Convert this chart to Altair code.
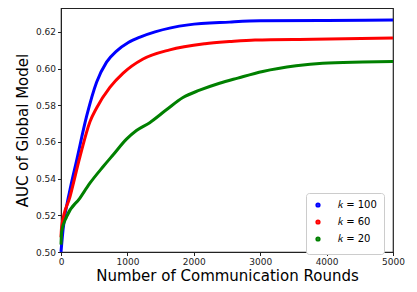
import altair as alt
import pandas as pd

labels = ["𝑘 = 100", "𝑘 = 60", "𝑘 = 20"]
colors = ["#0000ff", "#ff0000", "#008000"]

k100_x = [0, 30, 136, 236, 386, 536, 686, 836, 1014, 1200, 1416, 1917, 2538, 3000, 4000, 5000]
k100_y = [0.500, 0.512, 0.534, 0.550, 0.574, 0.5925, 0.6035, 0.6095, 0.6142, 0.6173, 0.620, 0.6238, 0.6253, 0.626, 0.6262, 0.6265]

k60_x = [0, 10, 136, 286, 436, 536, 736, 936, 1236, 1637, 2169, 2538, 2922, 3800, 5000]
k60_y = [0.508, 0.5139, 0.5302, 0.552, 0.571, 0.5785, 0.5897, 0.5975, 0.6052, 0.6102, 0.6135, 0.6147, 0.6156, 0.616, 0.6166]

k20_x = [0, 10, 85, 285, 435, 636, 786, 986, 1136, 1336, 1587, 1837, 2087, 2387, 2662, 3038, 3540, 3941, 4544, 5000]
k20_y = [0.504, 0.5112, 0.5193, 0.5294, 0.5375, 0.5466, 0.553, 0.5615, 0.5662, 0.5705, 0.5775, 0.5842, 0.5882, 0.592, 0.5948, 0.5984, 0.6015, 0.6029, 0.6035, 0.6038]

rows = []
for lab, xs, ys in zip(labels, [k100_x, k60_x, k20_x], [k100_y, k60_y, k20_y]):
    for x, y in zip(xs, ys):
        rows.append({"rounds": x, "auc": y, "series": lab})
df = pd.DataFrame(rows)

chart = alt.Chart(df).mark_line(strokeWidth=3, interpolate="monotone").encode(
    x=alt.X("rounds:Q", scale=alt.Scale(domain=[0, 5000], nice=False),
            axis=alt.Axis(values=[0, 1000, 2000, 3000, 4000, 5000], title="Number of Communication Rounds",
                          format="d")),
    y=alt.Y("auc:Q", scale=alt.Scale(domain=[0.50, 0.633], nice=False, zero=False),
            axis=alt.Axis(values=[0.50, 0.52, 0.54, 0.56, 0.58, 0.60, 0.62], format=".2f",
                          title="AUC of Global Model")),
    color=alt.Color("series:N", scale=alt.Scale(domain=labels, range=colors),
                    legend=alt.Legend(title=None, orient="none", legendX=245, legendY=185,
                                      symbolType="circle", symbolSize=5, symbolStrokeWidth=3,
                                      labelFontSize=10, labelFont="DejaVu Sans", labelColor="black",
                                      padding=7, rowPadding=1, strokeColor="#cccccc", fillColor="white",
                                      cornerRadius=3, labelOffset=15)),
    order=alt.Order("rounds:Q"),
).properties(
    width=332, height=244,
    autosize=alt.AutoSizeParams(type="none"),
    padding={"left": 53, "top": 0, "right": 16, "bottom": 40},
).configure_view(
    stroke="#222222", strokeWidth=1.2
).configure_axis(
    labelFont="DejaVu Sans", labelFontSize=9, labelColor="#222222", labelFlush=False,
    titleFont="DejaVu Sans", titleFontSize=15, titleFontWeight="normal", titleColor="black",
    domainColor="#222222", tickColor="#222222", tickSize=3.5, grid=False, labelPadding=2,
).configure_axisY(titlePadding=5).configure_axisX(titlePadding=2)

chart.save("out.html", embed_options={"renderer": "svg", "actions": False})
